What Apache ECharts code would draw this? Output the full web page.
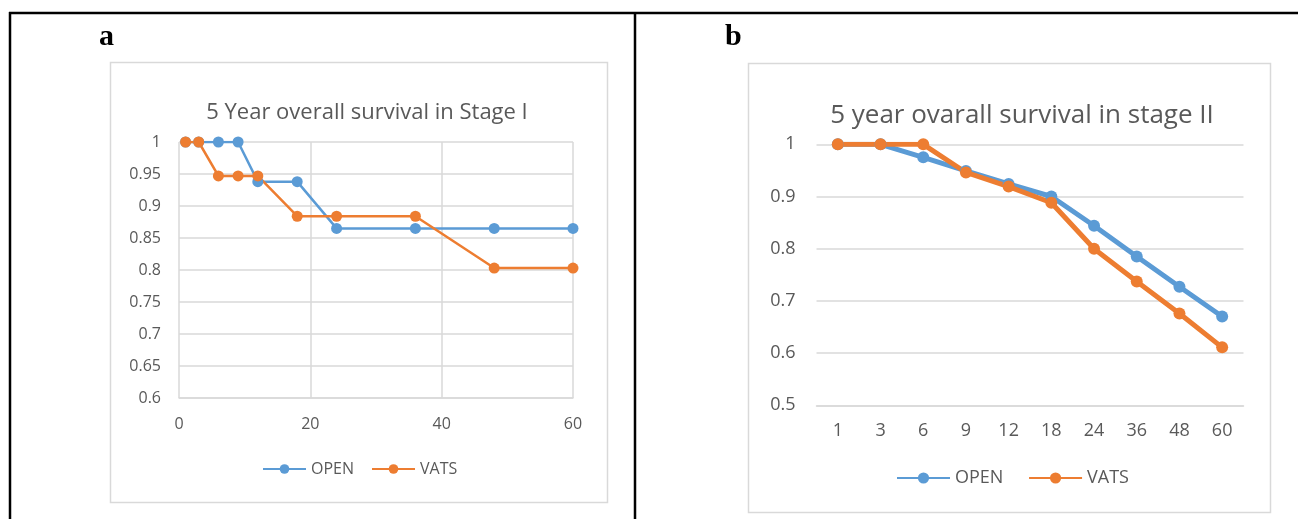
<!DOCTYPE html>
<html>
<head>
<meta charset="utf-8">
<script src="https://cdn.jsdelivr.net/npm/echarts@6/dist/echarts.min.js"></script>
<style>
html,body{margin:0;padding:0;background:#fff;}
#c{width:1298px;height:519px;}
</style>
</head>
<body>
<div id="c"></div>
<script>
// Panel a: Stage I (months vs survival)
const timesA = [1, 3, 6, 9, 12, 18, 24, 36, 48, 60];
const openA = [1, 1, 1, 1, 0.938, 0.938, 0.865, 0.865, 0.865, 0.865];
const vatsA = [1, 1, 0.947, 0.947, 0.947, 0.884, 0.884, 0.884, 0.803, 0.803];
// Panel b: Stage II (category months)
const catsB = ['1', '3', '6', '9', '12', '18', '24', '36', '48', '60'];
const openB = [1, 1, 0.975, 0.949, 0.924, 0.9, 0.844, 0.785, 0.727, 0.67];
const vatsB = [1, 1, 1, 0.946, 0.919, 0.888, 0.8, 0.737, 0.676, 0.611];
const titleA = '5 Year overall survival in Stage I';
const titleB = '5 year ovarall survival in stage II';

const BLUE = '#5b9bd5', ORANGE = '#ed7d31', TXT = '#595959', GRID = '#d9d9d9';
const FONT = 'Open Sans';

const chart = echarts.init(document.getElementById('c'));
chart.setOption({
  animation: false,
  textStyle: {fontFamily: FONT},
  title: [
    {text: titleA, left: 362, top: 97, textAlign: 'center',
     textStyle: {fontFamily: FONT, fontSize: 22, fontWeight: 'normal', color: TXT}},
    {text: titleB, left: 1017, top: 98, textAlign: 'center',
     textStyle: {fontFamily: FONT, fontSize: 26, fontWeight: 'normal', color: TXT}}
  ],
  graphic: [
    {type: 'line', shape: {x1: 9, y1: 13, x2: 1298, y2: 13}, style: {stroke: '#000', lineWidth: 2.5}},
    {type: 'line', shape: {x1: 10, y1: 12, x2: 10, y2: 519}, style: {stroke: '#000', lineWidth: 2.5}},
    {type: 'line', shape: {x1: 635, y1: 12, x2: 635, y2: 519}, style: {stroke: '#000', lineWidth: 2.5}},
    {type: 'rect', shape: {x: 110.5, y: 62.5, width: 497, height: 440}, style: {fill: 'none', stroke: GRID, lineWidth: 1.5}},
    {type: 'rect', shape: {x: 748.5, y: 63.5, width: 522, height: 449}, style: {fill: 'none', stroke: GRID, lineWidth: 1.5}},
    {type: 'text', left: 99, top: 22, style: {text: 'a', font: 'bold 30px "Liberation Serif"', fill: '#000'}},
    {type: 'text', left: 725, top: 22, style: {text: 'b', font: 'bold 30px "Liberation Serif"', fill: '#000'}}
  ],
  legend: [
    {data: ['OPEN', 'VATS'], left: 262, top: 461, itemWidth: 43, itemHeight: 12, itemGap: 17,
     textStyle: {fontFamily: FONT, fontSize: 16, color: TXT}, padding: 0},
    {data: ['OPEN ', 'VATS '], left: 896, top: 469, itemWidth: 53, itemHeight: 14, itemGap: 20,
     textStyle: {fontFamily: FONT, fontSize: 18, color: TXT}, padding: 0}
  ],
  grid: [
    {left: 179, top: 142, width: 394, height: 256},
    {left: 816.5, top: 144.3, width: 427, height: 261}
  ],
  xAxis: [
    {gridIndex: 0, type: 'value', min: 0, max: 60, interval: 20,
     axisLine: {show: true, lineStyle: {color: GRID, width: 1.5}}, axisTick: {show: false},
     splitLine: {show: true, lineStyle: {color: GRID, width: 1.5}},
     axisLabel: {color: TXT, fontSize: 16, margin: 18, fontFamily: FONT}},
    {gridIndex: 1, type: 'category', data: catsB, boundaryGap: true,
     axisLine: {show: true, lineStyle: {color: GRID, width: 1.5}}, axisTick: {show: false},
     axisLabel: {color: TXT, fontSize: 18, margin: 17, fontFamily: FONT}}
  ],
  yAxis: [
    {gridIndex: 0, type: 'value', min: 0.6, max: 1, interval: 0.05,
     axisLine: {show: false}, axisTick: {show: false},
     splitLine: {show: true, lineStyle: {color: GRID, width: 1.5}},
     axisLabel: {color: TXT, fontSize: 16, margin: 18, fontFamily: FONT}},
    {gridIndex: 1, type: 'value', min: 0.5, max: 1, interval: 0.1,
     axisLine: {show: false}, axisTick: {show: false},
     splitLine: {show: true, lineStyle: {color: GRID, width: 1.5}},
     axisLabel: {color: TXT, fontSize: 18, margin: 21, fontFamily: FONT}}
  ],
  series: [
    {name: 'OPEN', type: 'line', xAxisIndex: 0, yAxisIndex: 0,
     data: timesA.map((t, i) => [t, openA[i]]),
     symbol: 'circle', symbolSize: 11, itemStyle: {color: BLUE}, lineStyle: {color: BLUE, width: 2.5}},
    {name: 'VATS', type: 'line', xAxisIndex: 0, yAxisIndex: 0,
     data: timesA.map((t, i) => [t, vatsA[i]]),
     symbol: 'circle', symbolSize: 11, itemStyle: {color: ORANGE}, lineStyle: {color: ORANGE, width: 2.5}},
    {name: 'OPEN ', type: 'line', xAxisIndex: 1, yAxisIndex: 1, data: openB,
     symbol: 'circle', symbolSize: 12, itemStyle: {color: BLUE}, lineStyle: {color: BLUE, width: 5}},
    {name: 'VATS ', type: 'line', xAxisIndex: 1, yAxisIndex: 1, data: vatsB,
     symbol: 'circle', symbolSize: 12, itemStyle: {color: ORANGE}, lineStyle: {color: ORANGE, width: 5}}
  ]
});
</script>
</body>
</html>
